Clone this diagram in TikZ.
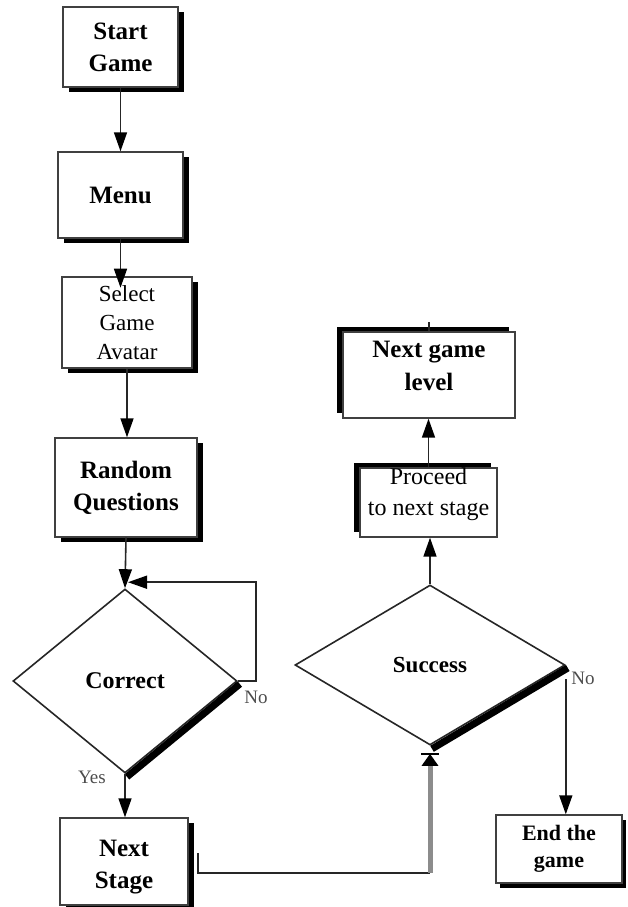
\documentclass[tikz,border=0pt]{standalone}
\usepackage{fontspec}
\setmainfont{Liberation Serif}
\usetikzlibrary{arrows.meta,shapes.geometric,shadows,calc}
\begin{document}
\begin{tikzpicture}[x=1pt,y=-1pt,
  line/.style={draw=black!85,line width=1.6pt},
  flow/.style={line,-{Triangle[length=19pt,width=13pt,black]}},
  boxbase/.style={draw=black!75,line width=1.4pt,fill=white,inner sep=0pt,align=center},
  shadowbr/.style={boxbase,drop shadow={shadow xshift=6pt,shadow yshift=-5pt,fill=black,opacity=1}},
  shadowtl/.style={boxbase,drop shadow={shadow xshift=-6pt,shadow yshift=5pt,fill=black,opacity=1}},
  shadowb/.style={boxbase,drop shadow={shadow xshift=4pt,shadow yshift=-5pt,fill=black,opacity=1}},
  bigbold/.style={font=\fontsize{25}{32}\selectfont\bfseries,align=center},
  plain/.style={font=\fontsize{24}{31}\selectfont,align=center},
  decision/.style={diamond,draw=black!85,line width=1.6pt,fill=white,inner sep=0pt},
  edgeshade/.style={line width=7pt,black,line cap=butt},
  lbl/.style={font=\fontsize{19}{22}\selectfont,text=black!70}
]
\useasboundingbox (0,0) rectangle (627,907);

% left column
\node[shadowbr,bigbold,minimum width=115pt,minimum height=80pt] (start) at (120.5,47) {Start\\Game};
\node[shadowbr,bigbold,minimum width=125pt,minimum height=86pt] (menu) at (120.5,195) {Menu};
\node[shadowbr,font=\fontsize{23}{29}\selectfont,minimum width=130pt,minimum height=91pt] (select) at (127,322.5) {Select\\Game\\Avatar};
\node[shadowbr,bigbold,minimum width=142pt,minimum height=99pt] (random) at (126,487.5) {Random\\Questions};
\node[decision,minimum width=224pt,minimum height=184pt,font=\fontsize{24}{30}\selectfont\bfseries] (correct) at (125,681) {Correct};
\draw[edgeshade] ([shift={(2,3)}]correct.east) -- ([shift={(2,3)}]correct.south);
\node[shadowbr,minimum width=128pt,minimum height=87pt,
  label={[name=nextstagetext,bigbold,yshift=-6pt]center:Next\\Stage}] (nextstage) at (124,861.5) {};

% right column
\node[decision,minimum width=270pt,minimum height=160pt,font=\fontsize{23}{28}\selectfont\bfseries] (success) at (430,665) {Success};
\draw[edgeshade] ([shift={(2,3)}]success.east) -- ([shift={(2,3)}]success.south);
\node[shadowtl,minimum width=137pt,minimum height=69pt,
  label={[name=proceedtext,plain,yshift=8pt]center:Proceed\\to next stage}] (proceed) at (428.5,502.5) {};
\node[shadowtl,minimum width=172pt,minimum height=86pt,
  label={[name=leveltext,bigbold,font=\fontsize{25}{33}\selectfont\bfseries,yshift=9pt]center:Next game\\level}] (level) at (429,375) {};
\node[shadowb,font=\fontsize{22}{27}\selectfont\bfseries,minimum width=126pt,minimum height=68pt] (end) at (559,849) {End the\\game};

% connectors, left column
\draw[flow] (start) -- (menu);
\draw[flow] (menu.south) -- ++(0,49);
\draw[flow] (select.south) -- (select.south |- random.north);
\draw[flow] (random.south) -- (correct.north);
\draw[flow] (correct.east) -- ++(18,0) |- ([shift={(3,-6)}]correct.north);
\draw[flow] (correct.south) -- (correct.south |- nextstage.north);
\node[lbl] (yes) at (92,777) {Yes};
\node[lbl] (nocorrect) at (256,697) {No};

% Next Stage back up to Success
\coordinate (tick) at ($(nextstage.east)+(9,-8.5)$);
\coordinate (bend) at (430,873);
\draw[line] (tick) |- (bend);
\draw[line width=5pt,draw=black!45,-{Triangle[length=12pt,width=16pt,black]}] (bend) -- ([yshift=-8pt]success.south);
\draw[line width=1.5pt,black] ([shift={(-9,8)}]success.south) -- ([shift={(9,8)}]success.south);

% connectors, right column
\draw[flow] (success.north) -- (success.north |- proceed.south);
\draw[flow] (proceed.north) -- (proceed.north |- level.south);
\draw[line] (level.north) -- ++(0,-9);
\draw[flow] ([yshift=-14pt]success.east) -- (success.east |- end.north);
\node[lbl] (nosuccess) at (583,678) {No};
\end{tikzpicture}
\end{document}
